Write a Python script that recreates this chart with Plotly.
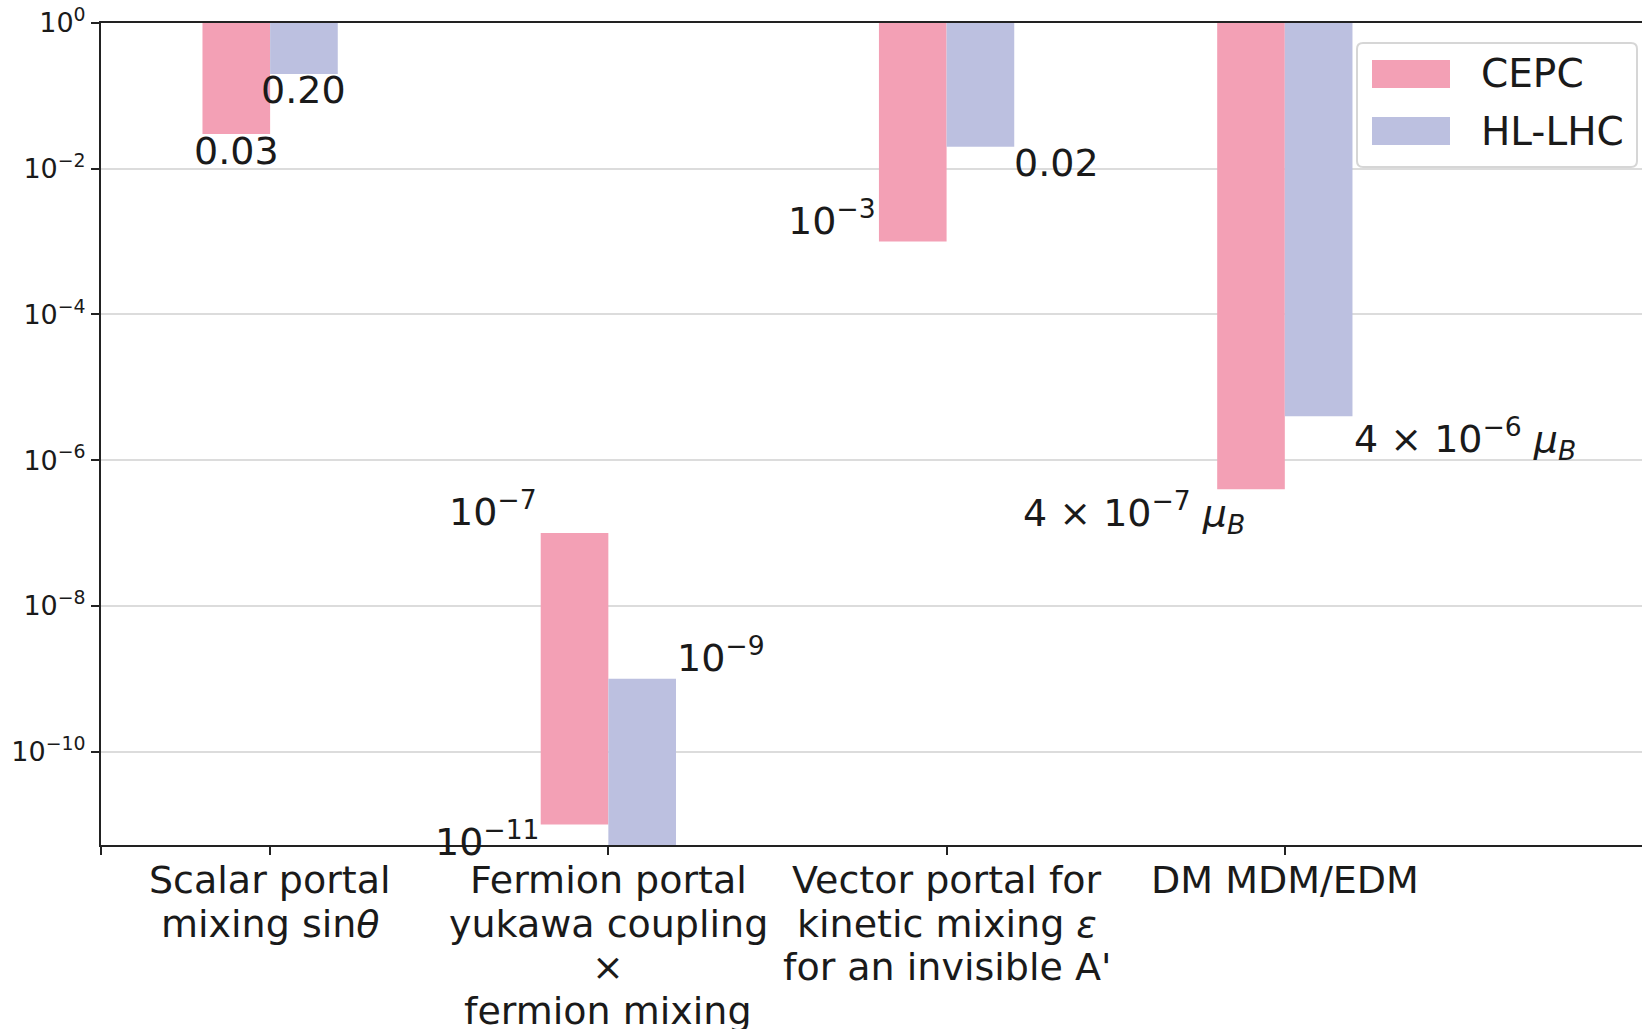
import math
import plotly.graph_objects as go

# ---------------- data ----------------
category_lines = [
    ["Scalar portal", "mixing sin<i>θ</i>"],
    ["Fermion portal", "yukawa coupling", "×", "fermion mixing"],
    ["Vector portal for", "kinetic mixing <i>ε</i>", "for an invisible A'"],
    ["DM MDM/EDM"],
]
series_names = ["CEPC", "HL-LHC"]
# each bar spans from a lower value up to an upper value
cepc_low = [0.03, 1e-11, 1e-3, 4e-7]
cepc_high = [1.0, 1e-7, 1.0, 1.0]
hllhc_low = [0.20, 1e-12, 0.02, 4e-6]
hllhc_high = [1.0, 1e-9, 1.0, 1.0]
ytick_exponents = [0, -2, -4, -6, -8, -10]

label_texts = {
    "scalar_cepc": "0.03",
    "scalar_hl": "0.20",
    "fermion_cepc_top": "10<sup>−7</sup>",
    "fermion_cepc_bottom": "10<sup>−11</sup>",
    "fermion_hl_top": "10<sup>−9</sup>",
    "vector_cepc": "10<sup>−3</sup>",
    "vector_hl": "0.02",
    "dm_hl": "4 × 10<sup>−6</sup> <i>μ</i><sub><i>B</i></sub>",
    "dm_cepc": "4 × 10<sup>−7</sup> <i>μ</i><sub><i>B</i></sub>",
}

# ---------------- style ----------------
FONT = "DejaVu Sans"
TXT = "#1a1a1a"
COLORS = ["#f3a0b5", "#bcc0e0"]
W, H = 1642, 1029
ML, MR, MT, MB = 101, 0, 23, 184
BAR_W = 0.2
BIG = 38

fig = go.Figure()
lows = [cepc_low, hllhc_low]
highs = [cepc_high, hllhc_high]
offsets = [-BAR_W, 0.0]
xs = list(range(len(category_lines)))
for s in range(2):
    fig.add_trace(go.Bar(
        x=xs,
        y=[h - l for h, l in zip(highs[s], lows[s])],
        base=lows[s],
        width=BAR_W,
        offset=offsets[s],
        marker=dict(color=COLORS[s], line=dict(width=0)),
        name=series_names[s],
        showlegend=False,
    ))

annots = []
def add_label(text, cat, series, value, xanchor, xshift, yshift, edge):
    if edge == "center":
        x = cat + offsets[series] + BAR_W / 2
    elif edge == "left":
        x = cat + offsets[series]
    else:
        x = cat + offsets[series] + BAR_W
    annots.append(dict(
        x=x, y=math.log10(value), xref="x", yref="y", text=text,
        showarrow=False, xanchor=xanchor, yanchor="middle",
        xshift=xshift, yshift=yshift,
        font=dict(family=FONT, size=BIG, color=TXT),
    ))

add_label(label_texts["scalar_cepc"], 0, 0, cepc_low[0], "center", 0, -17, "center")
add_label(label_texts["scalar_hl"], 0, 1, hllhc_low[0], "center", 0, -16, "center")
add_label(label_texts["fermion_cepc_top"], 1, 0, cepc_high[1], "right", -2, 24, "left")
add_label(label_texts["fermion_cepc_bottom"], 1, 0, cepc_low[1], "right", 0, -14, "left")
add_label(label_texts["fermion_hl_top"], 1, 1, hllhc_high[1], "left", -1, 24, "right")
add_label(label_texts["vector_cepc"], 2, 0, cepc_low[2], "right", -1, 24, "left")
add_label(label_texts["vector_hl"], 2, 1, hllhc_low[2], "left", -2, -16, "right")
add_label(label_texts["dm_hl"], 3, 1, hllhc_low[3], "left", 0, -22, "right")
add_label(label_texts["dm_cepc"], 3, 0, cepc_low[3], "right", -38, -23, "right")

# category labels (one annotation per line, matplotlib-like line spacing)
for i, lines in enumerate(category_lines):
    for j, line in enumerate(lines):
        annots.append(dict(
            x=i, y=0, xref="x", yref="paper", text=line, showarrow=False,
            xanchor="center", yanchor="middle", yshift=-35 - 43.5 * j,
            font=dict(family=FONT, size=BIG, color=TXT),
        ))

# manual legend (matplotlib style)
pw, ph = W - ML - MR, H - MT - MB
def px(xp):
    return (xp - ML) / pw
def py(yp):
    return 1 - (yp - MT) / ph

def rounded_rect(x0, y0, x1, y1, r):
    pts = [
        f"M{px(x0 + r)},{py(y0)}", f"L{px(x1 - r)},{py(y0)}", f"Q{px(x1)},{py(y0)} {px(x1)},{py(y0 + r)}",
        f"L{px(x1)},{py(y1 - r)}", f"Q{px(x1)},{py(y1)} {px(x1 - r)},{py(y1)}",
        f"L{px(x0 + r)},{py(y1)}", f"Q{px(x0)},{py(y1)} {px(x0)},{py(y1 - r)}",
        f"L{px(x0)},{py(y0 + r)}", f"Q{px(x0)},{py(y0)} {px(x0 + r)},{py(y0)}", "Z",
    ]
    return " ".join(pts)

shapes = [dict(type="path", xref="paper", yref="paper",
               path=rounded_rect(1357, 43, 1637, 167, 6),
               line=dict(color="#d6d6d6", width=2), fillcolor="rgba(255,255,255,0.85)",
               layer="above")]
leg_rows = [(60, 88), (117, 145)]
for s in range(2):
    y0, y1 = leg_rows[s]
    shapes.append(dict(type="rect", xref="paper", yref="paper",
                       x0=px(1372), x1=px(1450), y0=py(y1), y1=py(y0),
                       line=dict(width=0), fillcolor=COLORS[s], layer="above"))
    annots.append(dict(x=px(1479), y=py((y0 + y1) / 2), xref="paper", yref="paper",
                       text=series_names[s], showarrow=False, xanchor="left", yanchor="middle",
                       font=dict(family=FONT, size=BIG + 1, color=TXT)))

fig.update_layout(
    width=W, height=H,
    margin=dict(l=ML, r=MR, t=MT, b=MB, pad=0),
    plot_bgcolor="white", paper_bgcolor="white",
    barmode="overlay",
    font=dict(family=FONT, color=TXT),
    annotations=annots,
    shapes=shapes,
    showlegend=False,
)
fig.update_xaxes(
    range=[-0.5, 4.056],
    tickvals=[-0.5] + xs,
    ticktext=[""] * (len(xs) + 1),
    ticks="outside", ticklen=8, tickwidth=2, tickcolor="#222",
    showline=True, linecolor="#222", linewidth=2, mirror=True,
    showgrid=False, zeroline=False, automargin=False,
)
fig.update_yaxes(
    type="log",
    range=[-11.28, 0],
    tickvals=[10 ** e for e in ytick_exponents],
    ticktext=[f"10<sup>{'−' if e < 0 else ''}{abs(e)}</sup>" for e in ytick_exponents],
    tickfont=dict(family=FONT, size=27, color=TXT),
    ticks="outside", ticklen=8, tickwidth=2, tickcolor="#222",
    showline=True, linecolor="#222", linewidth=2,
    showgrid=True, gridcolor="#dcdcdc", gridwidth=2,
    zeroline=False, automargin=False,
)

fig.write_html("out.html")
